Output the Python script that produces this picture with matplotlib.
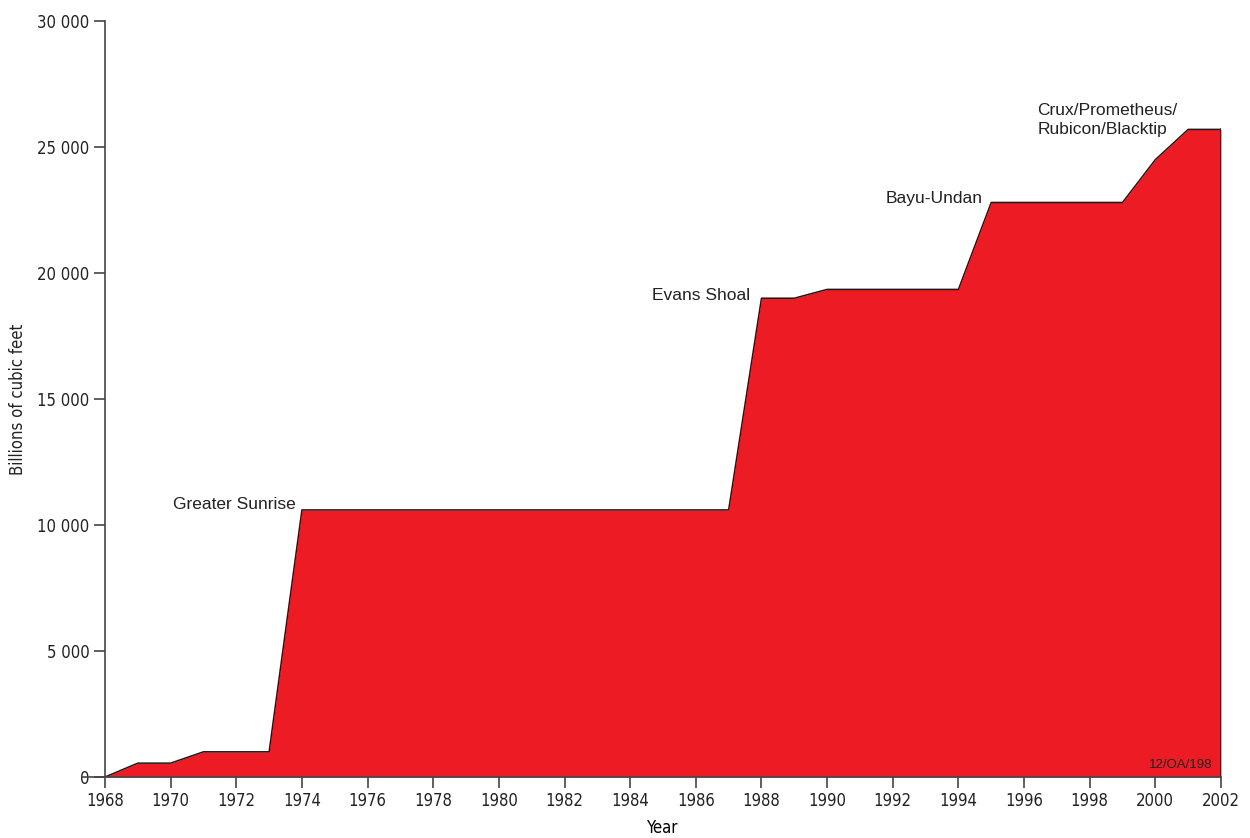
import matplotlib
matplotlib.use("Agg")
import matplotlib.pyplot as plt
from matplotlib.ticker import FuncFormatter, MultipleLocator

# cumulative gas discoveries (billions of cubic feet)
years = list(range(1968, 2003))
volumes = [0, 550, 550, 1000, 1000, 1000,
           10600, 10600, 10600, 10600, 10600, 10600, 10600, 10600, 10600,
           10600, 10600, 10600, 10600, 10600,
           19000, 19000, 19350, 19350, 19350, 19350, 19350,
           22800, 22800, 22800, 22800, 22800,
           24500, 25700, 25700]

labels = ["Greater Sunrise", "Evans Shoal", "Bayu-Undan"]
label_pos = [(1973.8, 10830), (1987.65, 19090), (1994.75, 22940)]

red = "#ED1C24"
axcol = "#444444"

fig = plt.figure(figsize=(12.5, 8.38), dpi=100)
ax = fig.add_axes([0.084, 0.0728, 0.8928, 0.9021])

ax.fill_between(years, volumes, 0, color=red, linewidth=0)
ax.plot(years, volumes, color="#1a1a1a", lw=1.1)
ax.plot([years[-1], years[-1]], [0, volumes[-1]], color="#1a1a1a", lw=1.1)

ax.set_xlim(1968, 2002)
ax.set_ylim(0, 30000)
ax.xaxis.set_major_locator(MultipleLocator(2))
ax.yaxis.set_major_locator(MultipleLocator(5000))
ax.yaxis.set_major_formatter(FuncFormatter(lambda v, p: "0" if v == 0 else "{:,}".format(int(v)).replace(",", " ")))

for s in ["top", "right"]:
    ax.spines[s].set_visible(False)
for s in ["left", "bottom"]:
    ax.spines[s].set_color(axcol)
    ax.spines[s].set_linewidth(1.2)
ax.spines["bottom"].set_bounds(1967.3, 2002)
ax.tick_params(direction="out", length=8, width=1.2, color=axcol,
               labelsize=12, labelcolor="#222222", pad=3)

for t in ax.get_xticklabels() + ax.get_yticklabels():
    t.set_family("DejaVu Sans")
    t.set_fontstretch("condensed")

ax.set_xlabel("Year", fontsize=12, fontstretch="condensed", labelpad=6)
fig.text(18 / 1250, 0.524, "Billions of cubic feet", rotation=90, ha="center", va="center",
         fontsize=12, fontstretch="condensed", color="#222222")

for txt, (x, y) in zip(labels, label_pos):
    ax.text(x, y, txt, ha="right", va="center", fontsize=12.5,
            family="Liberation Sans", color="#222222")
ax.text(1996.4, 26070, "Crux/Prometheus/\nRubicon/Blacktip", ha="left", va="center",
        fontsize=12.5, family="Liberation Sans", color="#222222", linespacing=1.3)
ax.text(2001.75, 470, "12/OA/198", ha="right", va="center", fontsize=9.5,
        family="Liberation Sans", color="#222222")

fig.savefig("out.png", dpi=100)
